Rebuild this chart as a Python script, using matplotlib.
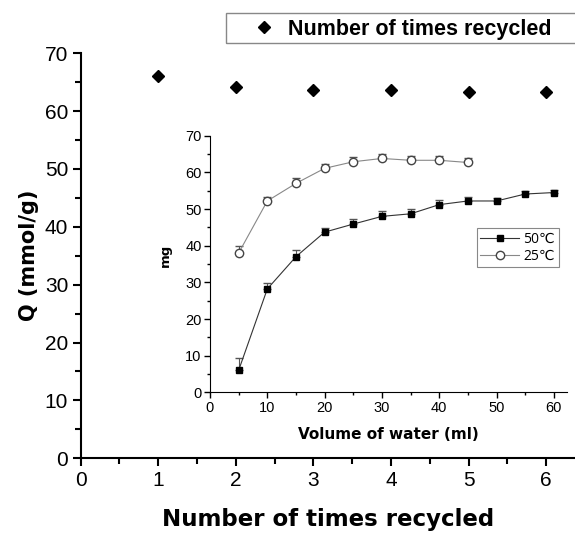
import numpy as np
import matplotlib
matplotlib.use("Agg")
import matplotlib.pyplot as plt
from matplotlib.ticker import MultipleLocator
from matplotlib.lines import Line2D
from matplotlib.patches import Rectangle

plt.rcParams['font.family'] = ['Liberation Sans', 'DejaVu Sans']

# main data: adsorption capacity vs recycling
cycles = [1, 2, 3, 4, 5, 6]
q_vals = [66.0, 64.2, 63.6, 63.6, 63.3, 63.3]

# inset data
vol_50 = [5, 10, 15, 20, 25, 30, 35, 40, 45, 50, 55, 60]
mg_50 = [6.0, 28.2, 37.0, 43.7, 45.9, 48.0, 48.7, 51.2, 52.2, 52.2, 54.1, 54.5]
err_50 = [3.4, 1.7, 1.7, 1.2, 1.3, 1.4, 1.4, 1.3, 1.0, 0.8, 0.9, 0.8]
vol_25 = [5, 10, 15, 20, 25, 30, 35, 40, 45]
mg_25 = [38.0, 52.2, 57.0, 61.1, 62.9, 63.8, 63.3, 63.3, 62.7]
err_25 = [1.8, 1.2, 1.5, 1.3, 1.2, 1.3, 1.2, 1.2, 1.3]

W, H = 575, 535
fig = plt.figure(figsize=(5.75, 5.35), dpi=100)
ax = fig.add_axes([0.1403, 0.1434, 0.8597, 0.757])
ax.plot(cycles, q_vals, 'D', color='black', markersize=6, linestyle='none',
        label='Number of times recycled')
ax.set_xlim(0, 6.37)
ax.set_ylim(0, 70)
ax.xaxis.set_major_locator(MultipleLocator(1))
ax.xaxis.set_minor_locator(MultipleLocator(0.5))
ax.yaxis.set_major_locator(MultipleLocator(10))
ax.yaxis.set_minor_locator(MultipleLocator(5))
for s in ['top', 'right']:
    ax.spines[s].set_visible(False)
for s in ['left', 'bottom']:
    ax.spines[s].set_linewidth(1.5)
ax.tick_params(which='major', length=6, width=1.5, labelsize=15, direction='out', pad=3)
ax.tick_params(which='minor', length=4, width=1.5, direction='out')
ax.set_xlabel('Number of times recycled', fontsize=16.5, fontweight='heavy',
              family='DejaVu Sans', labelpad=13)
ax.set_ylabel('Q (mmol/g)', fontsize=15, fontweight='heavy', family='DejaVu Sans',
              labelpad=4.5)

# legend box runs off the right edge
fig.patches.append(Rectangle((226 / W, 1 - 43 / H), 360 / W, 30 / H,
                             transform=fig.transFigure, facecolor='none',
                             edgecolor='#888888', linewidth=1.0))
ax.legend(loc='center left', bbox_to_anchor=(245 / W, 1 - 29 / H),
          bbox_transform=fig.transFigure, frameon=False,
          prop={'weight': 'bold', 'size': 15.5}, handletextpad=0.25,
          borderpad=0, borderaxespad=0, handlelength=1.75)

# inset
ins = fig.add_axes([0.3652, 0.2667, 0.621, 0.4796])
ins.errorbar(vol_50, mg_50, yerr=[np.zeros(len(err_50)), err_50], fmt='s-',
             color='#333333', mfc='black', mec='black', markersize=4.5,
             linewidth=0.8, ecolor='#555555', elinewidth=0.8, capsize=3)
ins.errorbar(vol_25, mg_25, yerr=[np.zeros(len(err_25)), err_25], fmt='o-',
             color='#888888', mfc='white', mec='#444444', markersize=6,
             linewidth=0.8, ecolor='#555555', elinewidth=0.8, capsize=3)
ins.set_xlim(0, 62.3)
ins.set_ylim(0, 70)
ins.xaxis.set_major_locator(MultipleLocator(10))
ins.xaxis.set_minor_locator(MultipleLocator(5))
ins.yaxis.set_major_locator(MultipleLocator(10))
ins.yaxis.set_minor_locator(MultipleLocator(5))
for s in ['top', 'right']:
    ins.spines[s].set_visible(False)
ins.tick_params(which='major', length=4, width=1, labelsize=10.5, direction='out', pad=2)
ins.tick_params(which='minor', length=2.5, width=1, direction='out')
ins.set_xlabel('Volume of water (ml)', fontsize=11, fontweight='heavy',
               family='DejaVu Sans', labelpad=9)
ins.set_ylabel('mg', fontsize=9.5, fontweight='heavy', family='DejaVu Sans')
ins.yaxis.set_label_coords(-0.106, 0.535)

handles = [Line2D([], [], color='#333333', marker='s', mfc='black', mec='black',
                  markersize=4.5, linewidth=0.8),
           Line2D([], [], color='#888888', marker='o', mfc='white', mec='#444444',
                  markersize=6, linewidth=0.8)]
ileg = ins.legend(handles, ['50℃', '25℃'], loc='upper left',
                  bbox_to_anchor=(477 / W, 1 - 228 / H),
                  bbox_transform=fig.transFigure, fancybox=False,
                  edgecolor='#888888', framealpha=1, borderaxespad=0,
                  prop={'family': ['Open Sans', 'DejaVu Sans'], 'size': 10},
                  handlelength=2.8, borderpad=0.25, labelspacing=0.15,
                  handletextpad=0.3)
ileg.get_frame().set_linewidth(0.8)

fig.savefig('out.png', dpi=100)
